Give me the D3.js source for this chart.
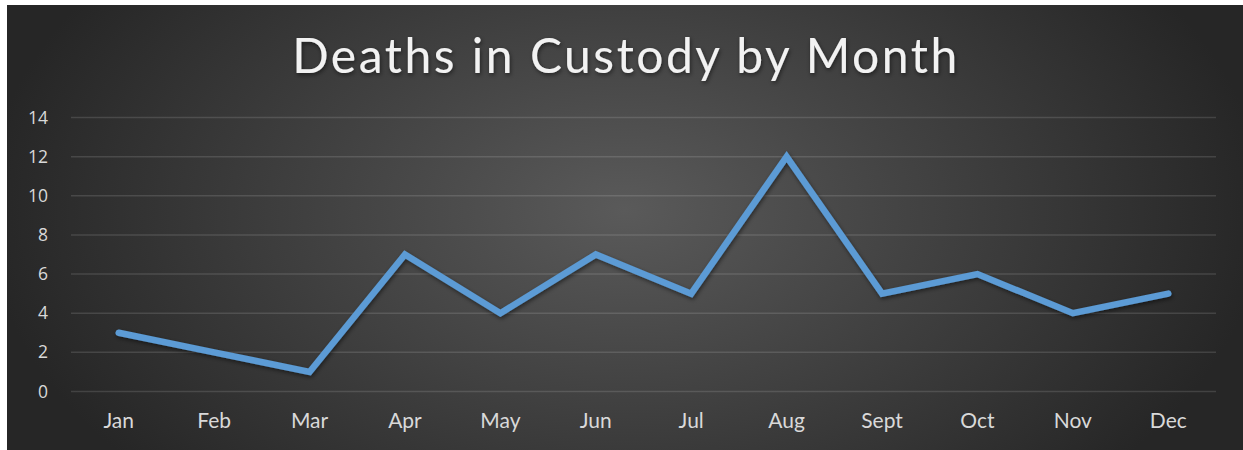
<!DOCTYPE html>
<html>
<head>
<meta charset="utf-8">
<script src="https://cdn.jsdelivr.net/npm/d3@7"></script>
<style>
  body { margin: 0; background: #fff; }
</style>
</head>
<body>
<div id="chart"></div>
<script>
const months = ['Jan', 'Feb', 'Mar', 'Apr', 'May', 'Jun', 'Jul', 'Aug', 'Sept', 'Oct', 'Nov', 'Dec']
const deaths = [3, 2, 1, 7, 4, 7, 5, 12, 5, 6, 4, 5]
const yTicks = [0, 2, 4, 6, 8, 10, 12, 14]

const width = 1243
const height = 450
const plot = { left: 71, right: 1216, top: 117.5, bottom: 391.5 }

const svg = d3.select('#chart')
    .append('svg')
    .attr('width', width)
    .attr('height', height)

const defs = svg.append('defs')
const grad = defs.append('radialGradient')
    .attr('id', 'bg')
    .attr('gradientUnits', 'userSpaceOnUse')
    .attr('cx', 625).attr('cy', 210).attr('r', 640)
    .attr('gradientTransform', 'translate(625,210) scale(1,0.62) translate(-625,-210)')
grad.append('stop').attr('offset', '0%').attr('stop-color', '#5a5a5a')
grad.append('stop').attr('offset', '100%').attr('stop-color', '#262626')

const shadow = defs.append('filter').attr('id', 'shadow')
    .attr('x', '-5%').attr('y', '-10%').attr('width', '110%').attr('height', '120%')
shadow.append('feDropShadow')
    .attr('dx', 1).attr('dy', 2).attr('stdDeviation', 2)
    .attr('flood-color', '#000').attr('flood-opacity', 0.5)

svg.append('rect')
    .attr('x', 7).attr('y', 5)
    .attr('width', 1236).attr('height', 445)
    .attr('fill', 'url(#bg)')

const x = d3.scaleBand()
    .domain(months)
    .range([plot.left, plot.right])

const y = d3.scaleLinear()
    .domain([0, 14])
    .range([plot.bottom, plot.top])

// gridlines
svg.append('g')
    .selectAll('line')
    .data(yTicks)
    .enter()
    .append('line')
    .attr('x1', plot.left)
    .attr('x2', plot.right)
    .attr('y1', d => y(d))
    .attr('y2', d => y(d))
    .attr('stroke', 'rgba(255,255,255,0.13)')
    .attr('stroke-width', 1.5)

// y axis
const yAxis = d3.axisLeft(y).tickValues(yTicks).tickSize(0).tickPadding(0)
svg.append('g')
    .attr('transform', 'translate(48,0)')
    .call(yAxis)
    .call(g => g.select('.domain').remove())
    .selectAll('text')
    .attr('fill', '#d9d9d9')
    .attr('font-family', 'Open Sans, sans-serif')
    .attr('font-size', 17.5)

// x axis
const xAxis = d3.axisBottom(x).tickSize(0).tickPadding(0)
svg.append('g')
    .attr('transform', 'translate(0,' + (plot.bottom + 22) + ')')
    .call(xAxis)
    .call(g => g.select('.domain').remove())
    .selectAll('text')
    .attr('fill', '#d9d9d9')
    .attr('font-family', 'Lato, sans-serif')
    .attr('font-size', 21)

// line
const line = d3.line()
    .x((d, i) => x(months[i]) + x.bandwidth() / 2)
    .y(d => y(d))

svg.append('path')
    .datum(deaths)
    .attr('d', line)
    .attr('fill', 'none')
    .attr('stroke', '#5b9bd5')
    .attr('stroke-width', 6.5)
    .attr('stroke-linecap', 'round')
    .attr('stroke-linejoin', 'miter')
    .attr('filter', 'url(#shadow)')

// title
svg.append('text')
    .text('Deaths in Custody by Month')
    .attr('x', 626)
    .attr('y', 73)
    .attr('text-anchor', 'middle')
    .attr('fill', '#f2f2f2')
    .attr('font-family', 'Lato, sans-serif')
    .attr('font-size', 48)
    .attr('letter-spacing', 2.5)
    .attr('filter', 'url(#shadow)')
</script>
</body>
</html>
